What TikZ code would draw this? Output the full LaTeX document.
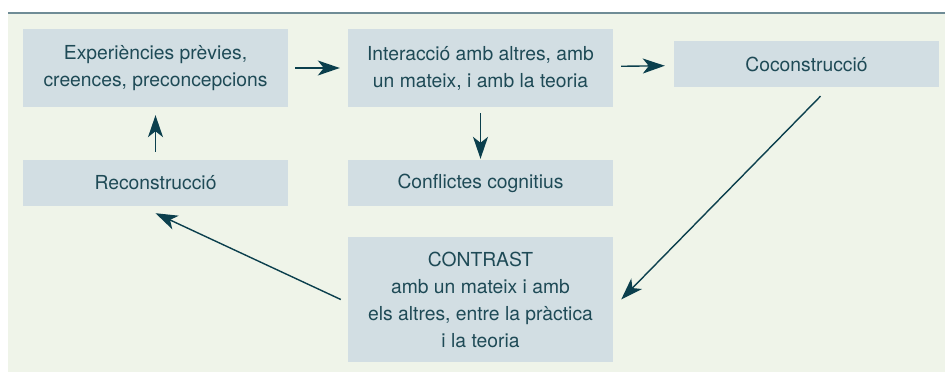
\documentclass[tikz,border=0pt]{standalone}
\usepackage{fontspec}
\setmainfont{TeX Gyre Heros}
\usetikzlibrary{arrows.meta}
\definecolor{fons}{HTML}{EFF4E9}
\definecolor{caixa}{HTML}{D2DEE3}
\definecolor{lletra}{HTML}{1E4A56}
\definecolor{fletxa}{HTML}{0B3F4D}
\definecolor{ratlla}{HTML}{6F8C96}
\begin{document}
\begin{tikzpicture}[x=1pt,y=-1pt,
    caixa/.style={fill=caixa, text=lletra, align=center, inner sep=0pt,
      minimum width=265pt, font=\fontsize{19.3}{27}\selectfont},
    fletxa/.style={draw=fletxa, line width=1.4pt,
      -{Stealth[length=22pt,width=15pt,inset=6pt]}}]
  \useasboundingbox (0,0) rectangle (945,372);
  \fill[fons] (8,13) rectangle (945,372);
  \draw[ratlla, line width=1.5pt] (8,13) -- (945,13);
  % caixes
  \node[caixa, minimum height=78pt] (exper) at (155.5,68) {Experiències prèvies,\\creences, preconcepcions};
  \node[caixa, minimum height=78pt] (inter) at (480.5,68) {Interacció amb altres, amb\\un mateix, i amb la teoria};
  \node[caixa, minimum height=46pt] (cocon) at (806.5,64) {Coconstrucció};
  \node[caixa, minimum height=46pt] (recon) at (155.5,183) {Reconstrucció};
  \node[caixa, minimum height=46pt] (confl) at (480.5,183) {Conflictes cognitius};
  \node[caixa, minimum height=125pt] (contr) at (480.5,299.5) {CONTRAST\\amb un mateix i amb\\els altres, entre la pràctica\\i la teoria};
  % fletxes
  \draw[fletxa, shorten <=7pt, shorten >=8pt] (exper) -- (inter);
  \draw[fletxa, shorten <=8pt, shorten >=9pt] (inter) -- (cocon);
  \draw[fletxa, shorten <=6pt, shorten >=1pt] (inter) -- (confl);
  \draw[fletxa, shorten <=8pt, shorten >=8pt] (recon) -- (exper.south -| recon.north);
  \draw[fletxa] ([xshift=14pt,yshift=-9pt]cocon.south) -- ([xshift=8pt]contr.east);
  \draw[fletxa] ([xshift=-7pt]contr.west) -- ([yshift=-7pt]recon.south);
\end{tikzpicture}
\end{document}
